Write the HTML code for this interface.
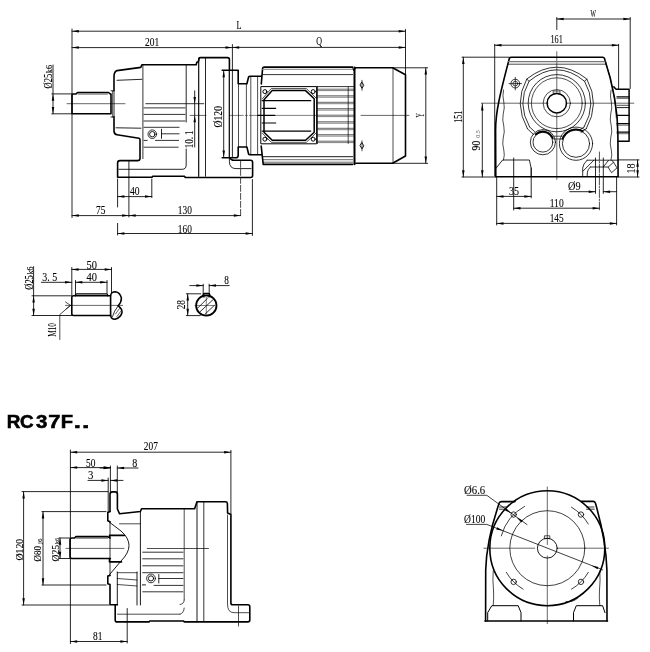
<!DOCTYPE html>
<html><head><meta charset="utf-8"><style>
html,body{margin:0;padding:0;background:#fff;}
svg{display:block;will-change:transform;}
svg line, svg path, svg circle, svg rect, svg polygon{stroke:#000;fill:none;stroke-linecap:round;stroke-linejoin:round;}
svg .f{fill:#000;stroke:none;}
svg text.t{font-family:"Liberation Serif",serif;fill:#000;}
svg text{stroke:#000;stroke-width:0.1px;}
svg text.s{font-family:"Liberation Sans",sans-serif;fill:#000;}
</style></head><body>
<svg width="650" height="652" viewBox="0 0 650 652">
<line x1="72" y1="29" x2="72" y2="217.5" stroke-width="0.85"/>
<line x1="72" y1="31.2" x2="405.5" y2="31.2" stroke-width="0.85"/>
<polygon points="72.00,31.20 78.80,29.95 78.80,32.45" class="f"/>
<polygon points="405.50,31.20 398.70,32.45 398.70,29.95" class="f"/>
<line x1="405.5" y1="29.5" x2="405.5" y2="74.5" stroke-width="0.85"/>
<line x1="72" y1="47.6" x2="232.3" y2="47.6" stroke-width="0.85"/>
<polygon points="72.00,47.60 78.80,46.35 78.80,48.85" class="f"/>
<polygon points="232.30,47.60 225.50,48.85 225.50,46.35" class="f"/>
<line x1="232.4" y1="47.4" x2="405.5" y2="47.4" stroke-width="0.85"/>
<polygon points="232.40,47.40 239.20,46.15 239.20,48.65" class="f"/>
<polygon points="405.50,47.40 398.70,48.65 398.70,46.15" class="f"/>
<line x1="232.4" y1="44.5" x2="232.4" y2="157.7" stroke-width="0.85"/>
<text x="236.4" y="29.4" font-size="11.5" textLength="5.00" lengthAdjust="spacingAndGlyphs" class="t">L</text>
<text x="145" y="46" font-size="12.8" textLength="14.20" lengthAdjust="spacingAndGlyphs" class="t">201</text>
<text x="316.2" y="45" font-size="11.5" textLength="5.80" lengthAdjust="spacingAndGlyphs" class="t">Q</text>
<line x1="51.8" y1="93.9" x2="72" y2="93.9" stroke-width="0.85"/>
<line x1="51.8" y1="113.8" x2="72" y2="113.8" stroke-width="0.85"/>
<line x1="53" y1="65" x2="53" y2="113.8" stroke-width="0.85"/>
<polygon points="53.00,94.00 54.25,100.80 51.75,100.80" class="f"/>
<polygon points="53.00,113.80 51.75,107.00 54.25,107.00" class="f"/>
<text transform="translate(52,88.4) rotate(-90)" font-size="12.8" textLength="14.60" lengthAdjust="spacingAndGlyphs" class="t">Ø25</text>
<text transform="translate(51.8,73.2) rotate(-90)" font-size="8" textLength="8.20" lengthAdjust="spacingAndGlyphs" class="t">k6</text>
<path d="M72,95 Q72,94 73,94 L76,94 L77.5,92.5 L108.5,92.5 L110.8,94.4 M72,95 L72,113 Q72,113.8 73,113.8 L111,113.8 M111,94 L111,113.8" stroke-width="1.6"/>
<line x1="78" y1="94.1" x2="107.5" y2="94.1" stroke-width="0.6"/>
<path d="M111,90.8 L114,90.8 L114,117 L111,117" stroke-width="0.85"/>
<line x1="112.5" y1="91" x2="112.5" y2="117" stroke-width="0.6"/>
<path d="M114,90.8 L114,76 Q114.3,71.2 117,70.6 L140.8,67.4 L141.9,64.8 L196.2,64.8 L196.8,62.3 L198.3,61.8 L199.2,58.3 Q199.4,57.6 200.5,57.6 L227.5,57.6 Q229.4,57.6 229.4,59.5 L229.4,70.3" stroke-width="1.6"/>
<path d="M114,116.8 L114,131.5 Q114.5,134.5 117,134.8 L139,138.3 Q140,138.6 140,139.8 L140,158.4 Q140,160.6 137.5,160.6 L120,160.6 Q117.6,160.6 117.6,163 L117.6,177.3 L152,177.3 L152.6,176.3 L184.6,176.3 L185.3,177.5 L250.6,177.5 Q252.6,177.5 252.6,175.5 L252.6,162.4 Q252.6,160.3 250.6,160.3 L234,160.3 Q231,160.3 229.6,157.6" stroke-width="1.6"/>
<line x1="117" y1="80.3" x2="141.9" y2="79.3" stroke-width="0.85"/>
<line x1="116" y1="127.8" x2="140.9" y2="128.2" stroke-width="0.85"/>
<line x1="142.9" y1="64.8" x2="142.9" y2="158.6" stroke-width="0.8"/>
<line x1="186.2" y1="65.5" x2="186.2" y2="122" stroke-width="0.85"/>
<path d="M186.2,149 L186.2,165 Q186.2,169.3 182,169.3 L119,169.3" stroke-width="0.85"/>
<line x1="198.7" y1="58" x2="198.7" y2="176.3" stroke-width="1.15"/>
<line x1="205.5" y1="58" x2="205.5" y2="176.3" stroke-width="0.85"/>
<line x1="144" y1="107.9" x2="185.1" y2="107.9" stroke-width="0.8"/>
<line x1="144" y1="114.4" x2="185.1" y2="114.4" stroke-width="0.8"/>
<line x1="144" y1="121" x2="185.1" y2="121" stroke-width="0.8"/>
<line x1="144" y1="127.3" x2="179.1" y2="127.3" stroke-width="0.8"/>
<line x1="155.5" y1="140.4" x2="178.6" y2="140.4" stroke-width="0.8"/>
<line x1="144" y1="147.2" x2="178.2" y2="147.2" stroke-width="0.8"/>
<line x1="144" y1="140.4" x2="147.2" y2="140.4" stroke-width="0.8"/>
<circle cx="152.3" cy="134.2" r="4.3" stroke-width="0.8"/>
<circle cx="152.3" cy="134.2" r="2.7" stroke-width="0.9"/>
<line x1="161.5" y1="129.2" x2="161.5" y2="138.4" stroke-width="0.85"/>
<line x1="161.5" y1="133.8" x2="179.1" y2="133.8" stroke-width="0.8"/>
<line x1="67" y1="103.7" x2="125" y2="103.7" stroke-width="0.6"/>
<line x1="145.8" y1="103.7" x2="203.8" y2="103.7" stroke-width="0.8"/>
<line x1="190" y1="115.4" x2="206" y2="115.4" stroke-width="0.6"/>
<line x1="229.4" y1="115.4" x2="261" y2="115.4" stroke-width="0.5" stroke-dasharray="14,2,2,2"/>
<line x1="275" y1="115.4" x2="317" y2="115.4" stroke-width="0.5"/>
<line x1="361" y1="115.4" x2="409" y2="115.4" stroke-width="0.6"/>
<line x1="194.7" y1="90.8" x2="194.7" y2="147" stroke-width="0.85"/>
<polygon points="194.70,103.70 193.45,96.90 195.95,96.90" class="f"/>
<polygon points="194.70,115.40 195.95,122.20 193.45,122.20" class="f"/>
<text transform="translate(192.6,148.3) rotate(-90)" font-size="12.8" textLength="17.90" lengthAdjust="spacingAndGlyphs" class="t">10. 1</text>
<path d="M222.2,70.3 L238.2,70.3 L238.2,83.8 L246.9,83.8 L248.6,77 Q249,76.3 250,76.3 L261.6,76.3 M261.3,84 L262.6,68.4 Q262.8,67.1 264.2,67.1 L352.6,67.1" stroke-width="1.6"/>
<path d="M222.2,157.7 L236.5,157.7 Q238.2,157.5 238.2,155 L238.2,147 L246.9,147 L248.6,154 Q249,154.7 250,154.7 L261.8,154.7 M261.2,146 L263.2,164.4 L352.6,164.4" stroke-width="1.6"/>
<line x1="229.3" y1="70.3" x2="229.3" y2="157.7" stroke-width="1.2"/>
<path d="M229.4,157.7 L229.4,161.5 Q229.4,168.6 236,168.6 L251,168.6" stroke-width="0.85"/>
<line x1="238.5" y1="83.8" x2="238.5" y2="147" stroke-width="0.7"/>
<line x1="246.4" y1="83.8" x2="246.4" y2="147" stroke-width="0.7"/>
<line x1="250.8" y1="76.3" x2="250.8" y2="154.7" stroke-width="0.7"/>
<line x1="257.6" y1="76.3" x2="257.6" y2="154.7" stroke-width="0.7"/>
<line x1="223.7" y1="70.5" x2="223.7" y2="157.3" stroke-width="0.85"/>
<polygon points="223.70,70.50 224.95,77.30 222.45,77.30" class="f"/>
<polygon points="223.70,157.30 222.45,150.50 224.95,150.50" class="f"/>
<text transform="translate(221.6,127.5) rotate(-90)" font-size="12.8" textLength="21.50" lengthAdjust="spacingAndGlyphs" class="t">Ø120</text>
<line x1="240.6" y1="161.4" x2="240.6" y2="217" stroke-width="0.7" stroke-dasharray="6,2"/>
<line x1="252.4" y1="179.5" x2="252.4" y2="235.5" stroke-width="0.85"/>
<line x1="263" y1="69.4" x2="352.6" y2="69.4" stroke-width="1.3" style="stroke:#999"/>
<line x1="263" y1="74.6" x2="352.6" y2="74.6" stroke-width="0.8"/>
<line x1="263" y1="156.7" x2="352.6" y2="156.7" stroke-width="0.9"/>
<line x1="263" y1="159.7" x2="352.6" y2="159.7" stroke-width="0.6"/>
<line x1="263" y1="162.2" x2="352.6" y2="162.2" stroke-width="0.6"/>
<rect x="261.2" y="86.6" width="55.4" height="57.2" stroke-width="1.0"/>
<path d="M262.2,99 L271.2,88.6 L306.4,88.6 L316,98 M262.2,133 L271.2,142.3 L306.4,142.3 L316,133" stroke-width="0.7"/>
<path d="M264,99.7 L272.2,90.6 L305.6,90.6 L314.2,98.7 L314.2,132.2 L305.6,140.3 L272.2,140.3 L264,132.2 Z" stroke-width="1.5"/>
<circle cx="264.9" cy="91.6" r="2.0" stroke-width="1.0"/>
<circle cx="313.2" cy="91.6" r="2.0" stroke-width="1.0"/>
<circle cx="264.9" cy="139.2" r="2.0" stroke-width="1.0"/>
<circle cx="313.2" cy="139.2" r="2.0" stroke-width="1.0"/>
<line x1="262.2" y1="100.7" x2="310.7" y2="100.7" stroke-width="1.3"/>
<line x1="262.2" y1="131.1" x2="310.7" y2="131.1" stroke-width="1.3"/>
<line x1="262.2" y1="108.3" x2="275.7" y2="108.3" stroke-width="1.2"/>
<line x1="262.2" y1="123" x2="275.7" y2="123" stroke-width="1.2"/>
<line x1="258" y1="115.4" x2="274.7" y2="115.4" stroke-width="1.4"/>
<line x1="317" y1="86.6" x2="354.5" y2="86.6" stroke-width="0.8"/>
<line x1="317.5" y1="89.2" x2="353.5" y2="89.2" stroke-width="1.0" style="stroke:#666"/>
<line x1="317.5" y1="90.60000000000001" x2="353.5" y2="90.60000000000001" stroke-width="0.5"/>
<line x1="317.5" y1="95.8" x2="353.5" y2="95.8" stroke-width="1.0" style="stroke:#666"/>
<line x1="317.5" y1="97.2" x2="353.5" y2="97.2" stroke-width="0.5"/>
<line x1="317.5" y1="102.3" x2="353.5" y2="102.3" stroke-width="1.0" style="stroke:#666"/>
<line x1="317.5" y1="103.7" x2="353.5" y2="103.7" stroke-width="0.5"/>
<line x1="317.5" y1="108.7" x2="353.5" y2="108.7" stroke-width="1.0" style="stroke:#666"/>
<line x1="317.5" y1="110.10000000000001" x2="353.5" y2="110.10000000000001" stroke-width="0.5"/>
<line x1="317.5" y1="115.2" x2="353.5" y2="115.2" stroke-width="1.0" style="stroke:#666"/>
<line x1="317.5" y1="116.60000000000001" x2="353.5" y2="116.60000000000001" stroke-width="0.5"/>
<line x1="317.5" y1="121.8" x2="353.5" y2="121.8" stroke-width="1.0" style="stroke:#666"/>
<line x1="317.5" y1="123.2" x2="353.5" y2="123.2" stroke-width="0.5"/>
<line x1="317.5" y1="128.3" x2="353.5" y2="128.3" stroke-width="1.0" style="stroke:#666"/>
<line x1="317.5" y1="129.70000000000002" x2="353.5" y2="129.70000000000002" stroke-width="0.5"/>
<line x1="317.5" y1="134.7" x2="353.5" y2="134.7" stroke-width="1.0" style="stroke:#666"/>
<line x1="317.5" y1="136.1" x2="353.5" y2="136.1" stroke-width="0.5"/>
<line x1="317.5" y1="141.2" x2="353.5" y2="141.2" stroke-width="1.0" style="stroke:#666"/>
<line x1="317.5" y1="142.6" x2="353.5" y2="142.6" stroke-width="0.5"/>
<line x1="317.5" y1="86.6" x2="317.5" y2="143.5" stroke-width="0.7"/>
<line x1="348.2" y1="86.6" x2="348.2" y2="143.5" stroke-width="0.7"/>
<line x1="354.5" y1="67.6" x2="354.5" y2="164.2" stroke-width="2.0"/>
<path d="M352.6,67.6 L354,71 L355.7,67.8" stroke-width="1.0"/>
<line x1="362" y1="80.3" x2="362" y2="90.3" stroke-width="0.7"/>
<path d="M362,82.3 L363.8,85.3 L362,88.3 L360.2,85.3 Z" stroke-width="0.9"/>
<line x1="362" y1="140.8" x2="362" y2="150.8" stroke-width="0.7"/>
<path d="M362,142.8 L363.8,145.8 L362,148.8 L360.2,145.8 Z" stroke-width="0.9"/>
<path d="M355.7,67.8 L392.6,67.8 L405.5,74.8 L405.5,156 L392.6,163.3 L355.7,163.3" stroke-width="1.6"/>
<line x1="393" y1="68" x2="393" y2="163.3" stroke-width="0.7"/>
<line x1="393" y1="67.8" x2="427.7" y2="67.8" stroke-width="0.85"/>
<line x1="393" y1="163.3" x2="427.7" y2="163.3" stroke-width="0.85"/>
<line x1="425.8" y1="67.8" x2="425.8" y2="163.3" stroke-width="0.85"/>
<polygon points="425.80,67.80 427.05,74.60 424.55,74.60" class="f"/>
<polygon points="425.80,163.30 424.55,156.50 427.05,156.50" class="f"/>
<text transform="translate(424,117.6) rotate(-90)" font-size="12.8" textLength="4.40" lengthAdjust="spacingAndGlyphs" class="t">Y</text>
<line x1="117.6" y1="179" x2="117.6" y2="207" stroke-width="0.85"/>
<line x1="151.8" y1="179" x2="151.8" y2="197.5" stroke-width="0.85"/>
<line x1="117.6" y1="196.6" x2="151.8" y2="196.6" stroke-width="0.85"/>
<polygon points="117.60,196.60 124.40,195.35 124.40,197.85" class="f"/>
<polygon points="151.80,196.60 145.00,197.85 145.00,195.35" class="f"/>
<text x="130" y="194.8" font-size="12.8" textLength="9.60" lengthAdjust="spacingAndGlyphs" class="t">40</text>
<line x1="128.9" y1="161.5" x2="128.9" y2="217" stroke-width="0.85"/>
<line x1="72" y1="215.6" x2="128.9" y2="215.6" stroke-width="0.85"/>
<polygon points="72.00,215.60 78.80,214.35 78.80,216.85" class="f"/>
<polygon points="128.90,215.60 122.10,216.85 122.10,214.35" class="f"/>
<line x1="128.9" y1="215.6" x2="240.6" y2="215.6" stroke-width="0.85"/>
<polygon points="128.90,215.60 135.70,214.35 135.70,216.85" class="f"/>
<polygon points="240.60,215.60 233.80,216.85 233.80,214.35" class="f"/>
<text x="96" y="214" font-size="12.8" textLength="9.40" lengthAdjust="spacingAndGlyphs" class="t">75</text>
<text x="177.8" y="214" font-size="12.8" textLength="14.10" lengthAdjust="spacingAndGlyphs" class="t">130</text>
<line x1="117.6" y1="223.4" x2="117.6" y2="235" stroke-width="0.85"/>
<line x1="117.6" y1="233.5" x2="252.4" y2="233.5" stroke-width="0.85"/>
<polygon points="117.60,233.50 124.40,232.25 124.40,234.75" class="f"/>
<polygon points="252.40,233.50 245.60,234.75 245.60,232.25" class="f"/>
<text x="177.8" y="232.5" font-size="12.8" textLength="14.10" lengthAdjust="spacingAndGlyphs" class="t">160</text>
<line x1="556.8" y1="17.5" x2="556.8" y2="29.5" stroke-width="0.85"/>
<line x1="556.8" y1="19" x2="630.2" y2="19" stroke-width="0.85"/>
<polygon points="556.80,19.00 563.60,17.75 563.60,20.25" class="f"/>
<polygon points="630.20,19.00 623.40,20.25 623.40,17.75" class="f"/>
<line x1="630.2" y1="17.5" x2="630.2" y2="88.5" stroke-width="0.85"/>
<text x="590.6" y="16.6" font-size="9.8" textLength="5.40" lengthAdjust="spacingAndGlyphs" class="t">W</text>
<line x1="494.7" y1="45.2" x2="618.6" y2="45.2" stroke-width="0.85"/>
<polygon points="494.70,45.20 501.50,43.95 501.50,46.45" class="f"/>
<polygon points="618.60,45.20 611.80,46.45 611.80,43.95" class="f"/>
<line x1="494.7" y1="44.3" x2="494.7" y2="176" stroke-width="0.85"/>
<line x1="618.6" y1="44.3" x2="618.6" y2="88.8" stroke-width="0.85"/>
<text x="550.4" y="43.4" font-size="12.8" textLength="12.40" lengthAdjust="spacingAndGlyphs" class="t">161</text>
<line x1="462" y1="57.2" x2="509" y2="57.2" stroke-width="0.85"/>
<line x1="462" y1="177" x2="496" y2="177" stroke-width="0.85"/>
<line x1="463.3" y1="57.2" x2="463.3" y2="177" stroke-width="0.85"/>
<polygon points="463.30,57.20 464.55,64.00 462.05,64.00" class="f"/>
<polygon points="463.30,177.00 462.05,170.20 464.55,170.20" class="f"/>
<text transform="translate(462,122.8) rotate(-90)" font-size="12.8" textLength="11.90" lengthAdjust="spacingAndGlyphs" class="t">151</text>
<line x1="482.3" y1="103.7" x2="482.3" y2="177" stroke-width="0.85"/>
<polygon points="482.30,103.70 483.55,110.50 481.05,110.50" class="f"/>
<polygon points="482.30,177.00 481.05,170.20 483.55,170.20" class="f"/>
<text transform="translate(480,150.4) rotate(-90)" font-size="12.8" textLength="9.80" lengthAdjust="spacingAndGlyphs" class="t">90</text>
<text transform="translate(479.8,137.8) rotate(-90)" font-size="5.5" textLength="7.4" lengthAdjust="spacingAndGlyphs" class="t" style="stroke:none;fill:#555">0.5</text>
<line x1="481.4" y1="103.2" x2="548" y2="103.2" stroke-width="0.6"/>
<line x1="566" y1="103.2" x2="633.8" y2="103.2" stroke-width="0.6"/>
<line x1="556.8" y1="51.7" x2="556.8" y2="92" stroke-width="0.6"/>
<line x1="556.8" y1="114" x2="556.8" y2="179.4" stroke-width="0.6"/>
<path d="M495.8,176.8 L495.6,130 C495.6,112 500,94 509.4,58.2 Q509.9,57.2 511.5,57.2 L602.8,57.2 Q604,57.2 604.4,58.2 Q617.8,98.6 617.9,135 L618.1,176.8 Z" stroke-width="1.6"/>
<line x1="508.6" y1="61.7" x2="605" y2="61.7" stroke-width="1.2" style="stroke:#777"/>
<line x1="507.8" y1="64.2" x2="605.8" y2="64.2" stroke-width="0.7"/>
<path d="M605.6,62 Q615.5,92 616.3,118" stroke-width="0.6"/>
<path d="M503.5,90 Q502.2,96 503.8,102 Q505,108 503.2,114 Q502,120 503.8,126 Q505,132 503.2,138 Q502,144 503.8,150 Q505,155 503.5,160" stroke-width="0.7"/>
<path d="M611,90 Q609.7,96 611.3,102 Q612.5,108 610.7,114 Q609.5,120 611.3,126 Q612.5,132 610.7,138 Q609.5,144 611.3,150 Q612.5,155 611,160" stroke-width="0.7"/>
<path d="M527.4,128.7 Q513.3,103.6 526.8,79 Q556.8,55.4 586.8,79 Q600.4,103.6 586.3,128.7" stroke-width="0.8"/>
<path d="M529.6,127 Q516.3,103.6 529,81.3 Q556.8,58.3 584.6,81.3 Q597.4,103.6 584.1,127" stroke-width="0.8"/>
<line x1="526.8" y1="79" x2="529" y2="81.3" stroke-width="0.8"/>
<line x1="586.8" y1="79" x2="584.6" y2="81.3" stroke-width="0.8"/>
<path d="M527.4,128.7 L533.5,134.5 M529.6,127 L534.5,131.5" stroke-width="0.8"/>
<path d="M586.3,128.7 L581,132.5 M584.1,127 L579.5,130" stroke-width="0.8"/>
<circle cx="556.8" cy="103.2" r="28.6" stroke-width="0.8"/>
<circle cx="556.8" cy="103.2" r="25.4" stroke-width="0.7"/>
<circle cx="556.8" cy="103.2" r="13.6" stroke-width="0.7"/>
<circle cx="556.8" cy="103.2" r="9.7" stroke-width="1.5"/>
<rect x="553.5999999999999" y="91.0" width="6.4" height="2.2" stroke-width="0.6"/>
<circle cx="542.9" cy="142.2" r="12.6" stroke-width="0.8"/>
<circle cx="542.9" cy="142.2" r="9.9" stroke-width="0.8"/>
<circle cx="576" cy="143.7" r="16.6" stroke-width="0.8"/>
<circle cx="576" cy="143.7" r="13.6" stroke-width="0.8"/>
<path d="M535.81,134.32 A10.6,10.6 0 0 1 552.73,138.23" stroke-width="1.9"/>
<path d="M562.56,138.81 A14.3,14.3 0 0 1 582.71,131.07" stroke-width="1.9"/>
<line x1="553.8" y1="136.2" x2="561.9" y2="136.2" stroke-width="0.7"/>
<line x1="553.8" y1="139" x2="561.9" y2="139" stroke-width="0.7"/>
<circle cx="515.3" cy="83.6" r="4.4" stroke-width="0.8"/>
<circle cx="515.3" cy="83.6" r="2.4" stroke-width="0.7"/>
<line x1="509" y1="83.6" x2="521.6" y2="83.6" stroke-width="0.7"/>
<line x1="515.3" y1="77.3" x2="515.3" y2="89.9" stroke-width="0.7"/>
<path d="M496,168.3 L502.6,160 L529.4,160 L531.2,168.3 L531.2,176.6" stroke-width="0.85"/>
<line x1="513.7" y1="158" x2="513.7" y2="210" stroke-width="0.85"/>
<line x1="587.1" y1="160.2" x2="618.2" y2="160.2" stroke-width="0.8"/>
<path d="M587.1,160.2 Q583,164 582.7,168 L582.7,176.3" stroke-width="0.8"/>
<path d="M590.3,167 L608.4,167 M590.3,167 Q587.5,170 587.4,172 L587.2,176.3" stroke-width="0.8"/>
<line x1="595.5" y1="158" x2="595.5" y2="193.4" stroke-width="0.85"/>
<line x1="603.3" y1="158" x2="603.3" y2="193.4" stroke-width="0.85"/>
<line x1="599.4" y1="152" x2="599.4" y2="209.8" stroke-width="0.7" stroke-dasharray="8,1.5,1.5,1.5"/>
<path d="M582.9,171.2 L593.9,160.2 M603.3,167 L608.4,160.5" stroke-width="0.8"/>
<path d="M608.4,167 L613.5,162.2 L617,167.9 L611.9,172.4 Z M611.7,160.2 L613.5,162.2" stroke-width="0.8"/>
<path d="M613.8,86.9 L616.1,89.2 L629.1,89.2 L629.1,141.3 L618,141.3" stroke-width="1.5"/>
<line x1="617" y1="96.9" x2="629.1" y2="96.9" stroke-width="1.3"/>
<line x1="617" y1="98.4" x2="629.1" y2="98.4" stroke-width="0.6"/>
<line x1="617" y1="105.3" x2="629.1" y2="105.3" stroke-width="0.7"/>
<line x1="617" y1="107.6" x2="629.1" y2="107.6" stroke-width="0.9"/>
<line x1="617" y1="115.3" x2="629.1" y2="115.3" stroke-width="1.3"/>
<line x1="617" y1="123.7" x2="629.1" y2="123.7" stroke-width="1.2"/>
<line x1="617" y1="125.2" x2="629.1" y2="125.2" stroke-width="0.6"/>
<line x1="617" y1="132.1" x2="629.1" y2="132.1" stroke-width="1.2"/>
<line x1="617" y1="133.7" x2="629.1" y2="133.7" stroke-width="0.6"/>
<line x1="531.2" y1="168" x2="531.2" y2="197.8" stroke-width="0.85"/>
<line x1="496.7" y1="196.4" x2="531.2" y2="196.4" stroke-width="0.85"/>
<polygon points="496.70,196.40 503.50,195.15 503.50,197.65" class="f"/>
<polygon points="531.20,196.40 524.40,197.65 524.40,195.15" class="f"/>
<text x="509" y="195" font-size="12.8" textLength="10.00" lengthAdjust="spacingAndGlyphs" class="t">35</text>
<line x1="496.7" y1="176.8" x2="496.7" y2="225" stroke-width="0.85"/>
<line x1="513.7" y1="208.2" x2="599.4" y2="208.2" stroke-width="0.85"/>
<polygon points="513.70,208.20 520.50,206.95 520.50,209.45" class="f"/>
<polygon points="599.40,208.20 592.60,209.45 592.60,206.95" class="f"/>
<text x="549.7" y="207" font-size="12.8" textLength="14.00" lengthAdjust="spacingAndGlyphs" class="t">110</text>
<line x1="616.6" y1="177.4" x2="616.6" y2="225" stroke-width="0.85"/>
<line x1="496.7" y1="223.4" x2="616.6" y2="223.4" stroke-width="0.85"/>
<polygon points="496.70,223.40 503.50,222.15 503.50,224.65" class="f"/>
<polygon points="616.60,223.40 609.80,224.65 609.80,222.15" class="f"/>
<text x="549.7" y="221.7" font-size="12.8" textLength="14.00" lengthAdjust="spacingAndGlyphs" class="t">145</text>
<line x1="569.8" y1="191.7" x2="595.5" y2="191.7" stroke-width="0.85"/>
<polygon points="595.50,191.70 588.70,192.95 588.70,190.45" class="f"/>
<line x1="603.3" y1="191.7" x2="616.6" y2="191.7" stroke-width="0.85"/>
<polygon points="603.30,191.70 610.10,190.45 610.10,192.95" class="f"/>
<text x="568" y="190.2" font-size="12.8" textLength="12.60" lengthAdjust="spacingAndGlyphs" class="t">Ø9</text>
<line x1="618.2" y1="159.9" x2="639" y2="159.9" stroke-width="0.85"/>
<line x1="618.2" y1="177" x2="639" y2="177" stroke-width="0.85"/>
<line x1="637.6" y1="159.9" x2="637.6" y2="177" stroke-width="0.85"/>
<polygon points="637.60,159.90 638.85,166.70 636.35,166.70" class="f"/>
<polygon points="637.60,177.00 636.35,170.20 638.85,170.20" class="f"/>
<text transform="translate(635.3,173.6) rotate(-90)" font-size="12.8" textLength="10.00" lengthAdjust="spacingAndGlyphs" class="t">18</text>
<path d="M71.8,297.5 Q71.8,295.8 73.5,295.8 L110.6,295.8 L110.6,315.5 L73.5,315.5 Q71.8,315.5 71.8,313.8 Z" stroke-width="1.6"/>
<path d="M75.5,295.8 L75.5,294.5 Q75.8,293.8 77,293.8 L106.5,293.8 Q107.8,293.8 107.8,295.8" stroke-width="1.3"/>
<path d="M110.6,295.8 Q111,291.8 115.5,291.8 Q120,292.5 121.4,298 Q121.6,302 118.2,305.8" stroke-width="1.5"/>
<path d="M118.2,305.8 Q114,311 112.5,316.5" stroke-width="0.8"/>
<path d="M118.2,305.8 Q122.5,309 122,312.5 Q121,317.5 115,319.3 Q111.5,319.5 110.6,315.5" stroke-width="1.5"/>
<path d="M115.5,314 L119.5,308.5 M117,316.5 L121,311" stroke-width="0.6"/>
<line x1="65.4" y1="305.4" x2="122.6" y2="305.4" stroke-width="0.6"/>
<line x1="71.8" y1="267.5" x2="71.8" y2="295" stroke-width="0.85"/>
<line x1="111.5" y1="267.5" x2="111.5" y2="292.5" stroke-width="0.85"/>
<line x1="71.8" y1="269.4" x2="111.5" y2="269.4" stroke-width="0.85"/>
<polygon points="71.80,269.40 78.60,268.15 78.60,270.65" class="f"/>
<polygon points="111.50,269.40 104.70,270.65 104.70,268.15" class="f"/>
<text x="86.6" y="268.5" font-size="12.8" textLength="10.40" lengthAdjust="spacingAndGlyphs" class="t">50</text>
<line x1="75.5" y1="280.5" x2="75.5" y2="293.5" stroke-width="0.85"/>
<line x1="107" y1="280.5" x2="107" y2="293.5" stroke-width="0.85"/>
<line x1="75.5" y1="282.3" x2="107" y2="282.3" stroke-width="0.85"/>
<polygon points="75.50,282.30 82.30,281.05 82.30,283.55" class="f"/>
<polygon points="107.00,282.30 100.20,283.55 100.20,281.05" class="f"/>
<text x="86.6" y="280.5" font-size="12.8" textLength="10.40" lengthAdjust="spacingAndGlyphs" class="t">40</text>
<line x1="41.4" y1="282.3" x2="71.8" y2="282.3" stroke-width="0.85"/>
<polygon points="71.80,282.30 65.00,283.55 65.00,281.05" class="f"/>
<text x="42.3" y="280.5" font-size="12.8" textLength="14.90" lengthAdjust="spacingAndGlyphs" class="t">3. 5</text>
<line x1="32" y1="295.8" x2="71.8" y2="295.8" stroke-width="0.85"/>
<line x1="32" y1="315.5" x2="71.8" y2="315.5" stroke-width="0.85"/>
<line x1="33.6" y1="266.6" x2="33.6" y2="315.5" stroke-width="0.85"/>
<polygon points="33.60,295.80 34.85,302.60 32.35,302.60" class="f"/>
<polygon points="33.60,315.50 32.35,308.70 34.85,308.70" class="f"/>
<text transform="translate(33,289.7) rotate(-90)" font-size="12.8" textLength="14.50" lengthAdjust="spacingAndGlyphs" class="t">Ø25</text>
<text transform="translate(32.8,274.6) rotate(-90)" font-size="8" textLength="8.00" lengthAdjust="spacingAndGlyphs" class="t">k6</text>
<path d="M65.5,302 L70.5,305.4 L66,309" stroke-width="0.7"/>
<path d="M70.5,305.4 L59.8,314.6 L59.8,339.5" stroke-width="0.7"/>
<text transform="translate(56.2,336.8) rotate(-90)" font-size="12.8" textLength="13.80" lengthAdjust="spacingAndGlyphs" class="t">M10</text>
<circle cx="206.3" cy="305.5" r="10.2" stroke-width="1.8"/>
<path d="M203,296.8 L203,295 Q203,293.5 204.6,293.5 L208.3,293.5 Q209.8,293.5 209.8,295 L209.8,296.8" stroke-width="1.5"/>
<line x1="204.2" y1="294" x2="204.2" y2="297.5" stroke-width="0.6"/>
<line x1="208.2" y1="294" x2="208.2" y2="297.5" stroke-width="0.6"/>
<line x1="197.5" y1="308.3" x2="207.2" y2="298.6" stroke-width="0.8"/>
<line x1="199.8" y1="312" x2="213.2" y2="299.5" stroke-width="0.8"/>
<line x1="205.4" y1="313.8" x2="214.2" y2="305.5" stroke-width="0.8"/>
<line x1="206.3" y1="297" x2="206.3" y2="315" stroke-width="0.5"/>
<line x1="195" y1="305.5" x2="215" y2="305.5" stroke-width="0.5"/>
<line x1="186.3" y1="293.8" x2="200.8" y2="293.8" stroke-width="0.85"/>
<line x1="186.3" y1="315.6" x2="200.3" y2="315.6" stroke-width="0.85"/>
<line x1="187.7" y1="293.8" x2="187.7" y2="315.6" stroke-width="0.85"/>
<polygon points="187.70,293.80 188.95,300.60 186.45,300.60" class="f"/>
<polygon points="187.70,315.60 186.45,308.80 188.95,308.80" class="f"/>
<text transform="translate(184.8,309.3) rotate(-90)" font-size="12.8" textLength="9.30" lengthAdjust="spacingAndGlyphs" class="t">28</text>
<line x1="203.2" y1="284.2" x2="203.2" y2="293.2" stroke-width="0.85"/>
<line x1="209.2" y1="284.2" x2="209.2" y2="293.2" stroke-width="0.85"/>
<line x1="189.8" y1="285.6" x2="203.2" y2="285.6" stroke-width="0.85"/>
<polygon points="203.20,285.60 196.40,286.85 196.40,284.35" class="f"/>
<line x1="209.2" y1="285.6" x2="229.2" y2="285.6" stroke-width="0.85"/>
<polygon points="209.20,285.60 216.00,284.35 216.00,286.85" class="f"/>
<text x="224.2" y="283.5" font-size="12.8" textLength="4.60" lengthAdjust="spacingAndGlyphs" class="t">8</text>
<text transform="translate(6.75,428.0) scale(1.043,1)" font-size="18.1" font-weight="bold" class="s" style="stroke:#000;stroke-width:0.55px">R</text>
<text transform="translate(19.97,428.0) scale(1.042,1)" font-size="18.1" font-weight="bold" class="s" style="stroke:#000;stroke-width:0.55px">C</text>
<text transform="translate(35.95,428.0) scale(1.130,1)" font-size="18.1" font-weight="bold" class="s" style="stroke:#000;stroke-width:0.55px">3</text>
<text transform="translate(48.33,428.0) scale(1.209,1)" font-size="18.1" font-weight="bold" class="s" style="stroke:#000;stroke-width:0.55px">7</text>
<text transform="translate(60.76,428.0) scale(1.117,1)" font-size="18.1" font-weight="bold" class="s" style="stroke:#000;stroke-width:0.55px">F</text>
<text transform="translate(73.83,428.0) scale(1.440,1)" font-size="18.1" font-weight="bold" class="s" style="stroke:#000;stroke-width:0.55px">.</text>
<text transform="translate(81.88,428.0) scale(1.480,1)" font-size="18.1" font-weight="bold" class="s" style="stroke:#000;stroke-width:0.55px">.</text>
<line x1="70.4" y1="450" x2="70.4" y2="643.5" stroke-width="0.85"/>
<line x1="70.4" y1="452.2" x2="230.9" y2="452.2" stroke-width="0.85"/>
<polygon points="70.40,452.20 77.20,450.95 77.20,453.45" class="f"/>
<polygon points="230.90,452.20 224.10,453.45 224.10,450.95" class="f"/>
<line x1="230.9" y1="450.4" x2="230.9" y2="514" stroke-width="0.85"/>
<text x="143.8" y="450.4" font-size="12.8" textLength="14.10" lengthAdjust="spacingAndGlyphs" class="t">207</text>
<line x1="70.4" y1="467.6" x2="110.4" y2="467.6" stroke-width="0.85"/>
<polygon points="70.40,467.60 77.20,466.35 77.20,468.85" class="f"/>
<polygon points="110.40,467.60 103.60,468.85 103.60,466.35" class="f"/>
<text x="86" y="467" font-size="12.8" textLength="9.40" lengthAdjust="spacingAndGlyphs" class="t">50</text>
<line x1="110.4" y1="466" x2="110.4" y2="492" stroke-width="0.85"/>
<line x1="117.3" y1="466" x2="117.3" y2="492" stroke-width="0.85"/>
<line x1="100" y1="468" x2="110.4" y2="468" stroke-width="0.85"/>
<polygon points="110.40,468.00 103.60,469.25 103.60,466.75" class="f"/>
<line x1="117.3" y1="468" x2="138" y2="468" stroke-width="0.85"/>
<polygon points="117.30,468.00 124.10,466.75 124.10,469.25" class="f"/>
<text x="132.3" y="466.5" font-size="12.8" textLength="5.00" lengthAdjust="spacingAndGlyphs" class="t">8</text>
<line x1="108.2" y1="478" x2="108.2" y2="512" stroke-width="0.85"/>
<line x1="88" y1="480.4" x2="108.2" y2="480.4" stroke-width="0.85"/>
<polygon points="108.20,480.40 101.40,481.65 101.40,479.15" class="f"/>
<line x1="110.4" y1="480.4" x2="123" y2="480.4" stroke-width="0.85"/>
<polygon points="110.40,480.40 117.20,479.15 117.20,481.65" class="f"/>
<text x="88" y="479" font-size="12.8" textLength="5.40" lengthAdjust="spacingAndGlyphs" class="t">3</text>
<path d="M110,511.5 L110,494.2 Q110,491.9 112.3,491.9 L115.2,491.9 Q117.4,491.9 117.4,494.2 L117.4,509 L119.6,513.8 L140.4,511.5 L141.5,508.8 L194.6,508.8 L197,501.8 L225.5,501.8 Q227.2,501.8 227.4,503.5 L227.6,513 L230.9,514.5 L230.9,603 Q230.9,604.8 232.8,604.8 L247.8,604.8 Q249.8,604.8 249.8,606.8 L249.8,620 Q249.8,621.9 247.8,621.9 L184.2,621.9 L183.8,621 L149.6,621 L149.2,621.9 L117,621.9 Q115.2,621.9 115.2,619.9 L115.2,605" stroke-width="1.6"/>
<path d="M110,511.5 L107.8,512.5 L107.8,520.8 L110,521.8" stroke-width="1.6"/>
<line x1="110" y1="521.8" x2="110" y2="575.5" stroke-width="0.8"/>
<path d="M110,575.5 L107.8,576 L107.8,583.8 L110,584.6 L110,604.8 L117.4,604.8" stroke-width="1.6"/>
<path d="M108.5,521.5 L121,531 Q129,538 129,545.5 Q129,553 121,561 L108.5,575.8" stroke-width="0.9"/>
<path d="M70,540 Q70,538 72,538 L74.5,538 L76,536.6 L107.5,536.6 L110,538 M70,540 L70,556.5 Q70,558.5 72,558.5 L110.4,558.5" stroke-width="1.6"/>
<line x1="76" y1="538.2" x2="107.5" y2="538.2" stroke-width="0.6"/>
<path d="M109.5,537.4 L109.5,535.4 L124.4,535.4" stroke-width="1.6"/>
<path d="M109.5,558.5 L109.5,561.9 L121.5,561.9" stroke-width="1.6"/>
<line x1="119.5" y1="523.8" x2="140.4" y2="523.8" stroke-width="0.7"/>
<line x1="238.5" y1="606" x2="238.5" y2="626" stroke-width="0.7"/>
<line x1="66" y1="548.4" x2="124" y2="548.4" stroke-width="0.6"/>
<line x1="140.4" y1="511.5" x2="140.4" y2="605" stroke-width="0.9"/>
<line x1="184.2" y1="508.8" x2="184.2" y2="600" stroke-width="0.7"/>
<path d="M184.2,600 Q184.2,604 180,604.5" stroke-width="0.7"/>
<line x1="197" y1="501.8" x2="197" y2="621" stroke-width="0.9"/>
<line x1="203.8" y1="501.8" x2="203.8" y2="621" stroke-width="0.8"/>
<path d="M227.5,515 L227.5,604 Q227.5,612.7 234,612.7 L249.3,612.7" stroke-width="0.7"/>
<line x1="117.5" y1="614.2" x2="180" y2="614.2" stroke-width="0.7"/>
<path d="M180,614.2 Q184,613 184.2,608" stroke-width="0.7"/>
<line x1="117.3" y1="605" x2="117.3" y2="572" stroke-width="0.9"/>
<line x1="137" y1="572" x2="137" y2="605" stroke-width="0.9"/>
<line x1="117.3" y1="572.7" x2="137" y2="572.7" stroke-width="0.7"/>
<line x1="117.3" y1="578.5" x2="137" y2="580" stroke-width="0.7"/>
<line x1="117.3" y1="584.5" x2="137" y2="586" stroke-width="0.7"/>
<line x1="147.3" y1="548.5" x2="208.5" y2="548.5" stroke-width="0.7"/>
<line x1="142.7" y1="552.2" x2="183" y2="552.2" stroke-width="0.8"/>
<line x1="142.7" y1="558.8" x2="183" y2="558.8" stroke-width="0.8"/>
<line x1="142.7" y1="565.8" x2="183" y2="565.8" stroke-width="0.8"/>
<line x1="142.7" y1="572.7" x2="183" y2="572.7" stroke-width="0.8"/>
<line x1="142.7" y1="591.8" x2="183" y2="591.8" stroke-width="0.8"/>
<line x1="154" y1="585.4" x2="183" y2="585.4" stroke-width="0.8"/>
<circle cx="151" cy="578.4" r="4.4" stroke-width="0.8"/>
<circle cx="151" cy="578.4" r="2.6" stroke-width="0.9"/>
<line x1="142.4" y1="584.9" x2="145.5" y2="584.9" stroke-width="0.9"/>
<line x1="158.8" y1="574.5" x2="158.8" y2="583" stroke-width="0.85"/>
<line x1="158.8" y1="578.5" x2="183" y2="578.5" stroke-width="0.8"/>
<line x1="127.2" y1="608.5" x2="127.2" y2="643" stroke-width="0.85"/>
<line x1="22" y1="491.6" x2="108" y2="491.6" stroke-width="0.85"/>
<line x1="23.6" y1="491.6" x2="23.6" y2="605" stroke-width="0.85"/>
<polygon points="23.60,491.60 24.85,498.40 22.35,498.40" class="f"/>
<polygon points="23.60,605.00 22.35,598.20 24.85,598.20" class="f"/>
<line x1="22" y1="605" x2="109" y2="605" stroke-width="0.85"/>
<text transform="translate(22.6,560.5) rotate(-90)" font-size="11" textLength="21.70" lengthAdjust="spacingAndGlyphs" class="t">Ø120</text>
<line x1="42" y1="511.6" x2="106" y2="511.6" stroke-width="0.85"/>
<line x1="43" y1="511.6" x2="43" y2="585" stroke-width="0.85"/>
<polygon points="43.00,511.60 44.25,518.40 41.75,518.40" class="f"/>
<polygon points="43.00,585.00 41.75,578.20 44.25,578.20" class="f"/>
<line x1="42" y1="585" x2="106" y2="585" stroke-width="0.85"/>
<text transform="translate(40.6,561.4) rotate(-90)" font-size="11.2" textLength="15.40" lengthAdjust="spacingAndGlyphs" class="t">Ø80</text>
<text transform="translate(41.8,544) rotate(-90)" font-size="7" textLength="5.40" lengthAdjust="spacingAndGlyphs" class="t">j6</text>
<line x1="59" y1="538" x2="70" y2="538" stroke-width="0.85"/>
<line x1="59" y1="558.5" x2="70" y2="558.5" stroke-width="0.85"/>
<line x1="60" y1="538" x2="60" y2="558.5" stroke-width="0.85"/>
<polygon points="60.00,538.00 61.25,544.80 58.75,544.80" class="f"/>
<polygon points="60.00,558.50 58.75,551.70 61.25,551.70" class="f"/>
<text transform="translate(58.6,561.4) rotate(-90)" font-size="11.2" textLength="16.60" lengthAdjust="spacingAndGlyphs" class="t">Ø25</text>
<text transform="translate(59.4,544) rotate(-90)" font-size="7" textLength="5.80" lengthAdjust="spacingAndGlyphs" class="t">k6</text>
<line x1="70.4" y1="641.5" x2="127.2" y2="641.5" stroke-width="0.85"/>
<polygon points="70.40,641.50 77.20,640.25 77.20,642.75" class="f"/>
<polygon points="127.20,641.50 120.40,642.75 120.40,640.25" class="f"/>
<text x="93" y="640" font-size="12.8" textLength="9.40" lengthAdjust="spacingAndGlyphs" class="t">81</text>
<path d="M485.6,621 L485.7,570 Q486.5,540 499.2,503 Q499.8,501.6 501.5,501.6 L515,501.6" stroke-width="1.6"/>
<path d="M607,621 L606.9,570 Q606,540 595.4,503 Q594.8,501.4 593,501.4 L581.5,501.4" stroke-width="1.6"/>
<line x1="485" y1="621" x2="607.5" y2="621" stroke-width="1.6"/>
<path d="M487.7,621 L487.7,612.6 L491.8,605.7 L518.2,605.7 L521,612.6 L521,621" stroke-width="1.0"/>
<path d="M573.5,621 L573.5,612.6 L576.3,605.7 L602.6,605.7 L605,612.6" stroke-width="1.0"/>
<path d="M493.2,571 Q492.5,580 493.5,590 Q494,598 493.2,605.7" stroke-width="0.7"/>
<path d="M599.8,571 Q600.5,580 599.5,590 Q599,598 599.8,605.7" stroke-width="0.7"/>
<line x1="499.5" y1="507" x2="506.5" y2="507" stroke-width="0.8"/>
<line x1="499.3" y1="509.2" x2="506.5" y2="509.2" stroke-width="0.8"/>
<line x1="586.5" y1="507" x2="594" y2="507" stroke-width="0.8"/>
<line x1="586.5" y1="509.2" x2="594.3" y2="509.2" stroke-width="0.8"/>
<circle cx="547.3" cy="548.2" r="57.5" stroke-width="1.6"/>
<circle cx="547.3" cy="548.2" r="37.5" stroke-width="0.75"/>
<circle cx="547.3" cy="548.2" r="9.9" stroke-width="0.9"/>
<rect x="544.8" y="535.8000000000001" width="5" height="2.6" stroke-width="0.7"/>
<path d="M566,601.5 Q572,603 578,598" stroke-width="0.7"/>
<circle cx="513.64" cy="514.54" r="2.7" stroke-width="0.8"/>
<path d="M501.32,535.88 A47.6,47.6 0 0 1 524.59,506.37" stroke-width="0.75"/>
<circle cx="580.96" cy="514.54" r="2.7" stroke-width="0.8"/>
<path d="M571.46,507.19 A47.6,47.6 0 0 1 588.31,524.04" stroke-width="0.75"/>
<circle cx="513.64" cy="581.86" r="2.7" stroke-width="0.8"/>
<path d="M523.14,589.21 A47.6,47.6 0 0 1 506.29,572.36" stroke-width="0.75"/>
<circle cx="580.96" cy="581.86" r="2.7" stroke-width="0.8"/>
<path d="M588.31,572.36 A47.6,47.6 0 0 1 571.46,589.21" stroke-width="0.75"/>
<line x1="483.8" y1="548.2" x2="534.6" y2="548.2" stroke-width="0.6"/>
<line x1="557.5" y1="548.2" x2="608.5" y2="548.2" stroke-width="0.6"/>
<line x1="547.3" y1="487" x2="547.3" y2="544.5" stroke-width="0.6"/>
<line x1="547.3" y1="556" x2="547.3" y2="623.7" stroke-width="0.6"/>
<text x="464" y="494" font-size="12.4" textLength="21.20" lengthAdjust="spacingAndGlyphs" class="t">Ø6.6</text>
<path d="M467,495.3 L486.8,495.3 L527,524.6" stroke-width="0.75"/>
<polygon points="511.30,513.50 505.07,510.50 506.54,508.48" class="f"/>
<polygon points="516.60,517.60 522.83,520.60 521.36,522.62" class="f"/>
<text x="464" y="522.5" font-size="12.4" textLength="21.20" lengthAdjust="spacingAndGlyphs" class="t">Ø100</text>
<path d="M466.5,524.4 L486.8,524.4 L602.6,569.8" stroke-width="0.75"/>
<polygon points="503.00,530.80 496.21,529.48 497.13,527.15" class="f"/>
<polygon points="591.60,565.60 598.39,566.92 597.47,569.25" class="f"/>
</svg>
</body></html>
